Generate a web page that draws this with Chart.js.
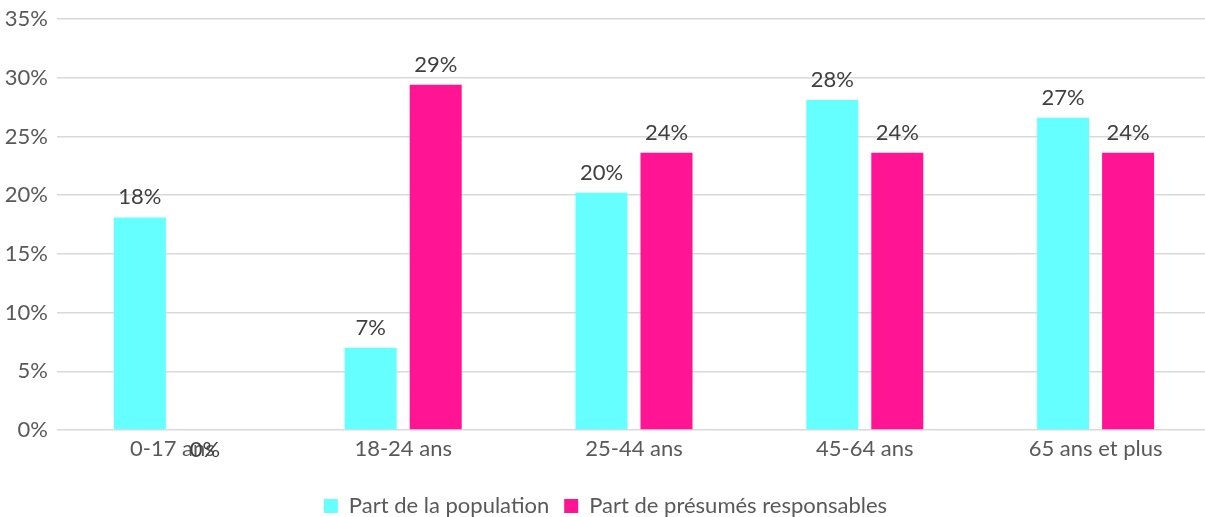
<!DOCTYPE html>
<html>
<head>
<meta charset="utf-8">
<script src="https://cdn.jsdelivr.net/npm/chart.js@4/dist/chart.umd.min.js"></script>
<style>
    html, body { margin: 0; padding: 0; background: #fff; overflow: hidden; }
    /* plot runs a few pixels past the right edge of the page */
    #wrap { width: 1211px; height: 517px; }
</style>
</head>
<body>
<div id="wrap"><canvas id="myChart"></canvas></div>
<script>
const categories = ['0-17 ans', '18-24 ans', '25-44 ans', '45-64 ans', '65 ans et plus'];
const partPopulation = [18.1, 7.0, 20.2, 28.1, 26.6];
const partResponsables = [0, 29.4, 23.6, 23.6, 23.6];
const seriesNames = ['Part de la population', 'Part de présumés responsables'];
const yTicks = [0, 5, 10, 15, 20, 25, 30, 35];

const textFont = { family: 'Lato', size: 22 };

// percentage text above each bar (below the axis when the value is 0)
const valueLabels = {
    id: 'valueLabels',
    afterDatasetsDraw(chart) {
        const ctx = chart.ctx;
        ctx.save();
        ctx.font = '22px Lato';
        ctx.fillStyle = '#404040';
        ctx.textAlign = 'center';
        ctx.textBaseline = 'alphabetic';
        chart.data.datasets.forEach((ds, i) => {
            chart.getDatasetMeta(i).data.forEach((bar, j) => {
                const v = ds.data[j];
                const text = Math.round(v) + '%';
                if (v > 0) {
                    ctx.fillText(text, bar.x, bar.y - 13);
                } else {
                    ctx.fillText(text, bar.x, bar.y + 27);
                }
            });
        });
        ctx.restore();
    }
};

var ctx = document.getElementById('myChart').getContext('2d');

var chart = new Chart(ctx, { //eslint-disable-line
    type: 'bar',
    data: {
        labels: categories,
        datasets: [
            {
                label: seriesNames[0],
                backgroundColor: '#66FFFF',
                data: partPopulation,
                categoryPercentage: 0.5634,
                barPercentage: 0.8
            },
            {
                label: seriesNames[1],
                backgroundColor: '#FF1493',
                data: partResponsables,
                categoryPercentage: 0.5634,
                barPercentage: 0.8
            }
        ]
    },
    options: {
        responsive: true,
        maintainAspectRatio: false,
        animation: false,
        layout: { padding: { top: 19, right: 0, bottom: -10, left: 0 } },
        scales: {
            x: {
                grid: { display: false, drawTicks: false },
                border: { display: false },
                ticks: {
                    color: '#595959',
                    font: textFont,
                    padding: 6,
                    maxRotation: 0
                },
                afterFit(scale) { scale.height = 50; }
            },
            y: {
                min: 0,
                max: 35,
                afterBuildTicks(scale) {
                    scale.ticks = yTicks.map((v) => ({ value: v }));
                },
                grid: { color: '#d9d9d9', lineWidth: 1.5, drawTicks: false },
                border: { display: false },
                ticks: {
                    color: '#595959',
                    font: textFont,
                    padding: 9,
                    callback: (v) => v + '%'
                },
                afterFit(scale) {
                    scale.width = 57;
                    scale.paddingTop = 0;
                    scale.paddingBottom = 0;
                }
            }
        },
        plugins: {
            legend: {
                position: 'bottom',
                labels: {
                    color: '#595959',
                    font: textFont,
                    boxWidth: 14,
                    boxHeight: 14,
                    padding: 15
                }
            },
            tooltip: { enabled: false }
        }
    },
    plugins: [valueLabels]
});
</script>
</body>
</html>
